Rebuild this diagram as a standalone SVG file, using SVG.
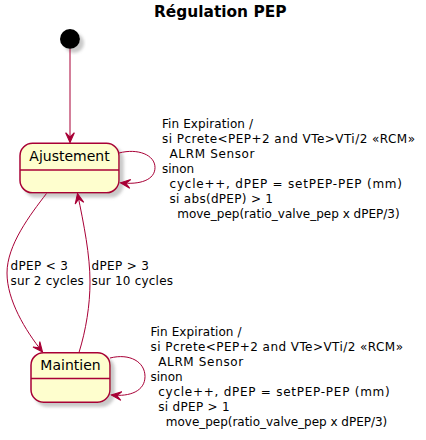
<svg xmlns="http://www.w3.org/2000/svg" width="426" height="440" viewBox="0 0 426 440">
<style>
.state{fill:#FEFECE;stroke:#A80036;stroke-width:1.5}
.sep{stroke:#A80036;stroke-width:1.5}
.name{font-family:"DejaVu Sans",Verdana,sans-serif;font-size:14px;fill:#000;text-anchor:middle}
.lbl{font-family:"DejaVu Sans",Verdana,sans-serif;font-size:12px;fill:#000}
.edge{fill:none;stroke:#A80036;stroke-width:1}
.title{font-family:"DejaVu Sans",Verdana,sans-serif;font-size:16px;font-weight:bold;fill:#000}
</style>
<defs>
<filter id="sh" x="-20%" y="-20%" width="150%" height="150%">
<feGaussianBlur in="SourceAlpha" stdDeviation="1.7" result="b"/>
<feOffset in="b" dx="4" dy="4" result="o"/>
<feColorMatrix in="o" type="matrix" values="0 0 0 0 0.3  0 0 0 0 0.3  0 0 0 0 0.3  0 0 0 0.5 0" result="s"/>
<feMerge><feMergeNode in="s"/><feMergeNode in="SourceGraphic"/></feMerge>
</filter>
<marker id="ah" markerUnits="userSpaceOnUse" markerWidth="12" markerHeight="12" viewBox="-10 -5 11 10" refX="0" refY="0" orient="auto" overflow="visible">
<path d="M0,0 L-9,-4 L-5,0 L-9,4 Z" fill="#A80036" stroke="#A80036" stroke-width="1"/>
</marker>
</defs>
<rect width="426" height="440" fill="#FFFFFF"/>
<text class="title" x="154" y="16.8" textLength="132.5" lengthAdjust="spacingAndGlyphs">Régulation PEP</text>

<g id="initial">
<circle cx="70" cy="39" r="10" fill="#000" filter="url(#sh)"/>
</g>

<g id="Ajustement">
<rect class="state" x="20" y="143.3" width="99" height="49.5" rx="12.5" ry="12.5" filter="url(#sh)"/>
<line class="sep" x1="20" y1="170" x2="119" y2="170"/>
<text class="name" x="69.5" y="161">Ajustement</text>
</g>

<g id="Maintien">
<rect class="state" x="31" y="352.7" width="79" height="49.5" rx="12.5" ry="12.5" filter="url(#sh)"/>
<line class="sep" x1="31" y1="378.5" x2="110" y2="378.5"/>
<text class="name" x="70.5" y="369.5">Maintien</text>
</g>

<g id="connectors">
<path class="edge" d="M70,49 L70,142.5" marker-end="url(#ah)"/>
<path class="edge" d="M119,153 C138,148 155,155 155,167.5 C155,180 140,185 120.5,182.8" marker-end="url(#ah)"/>
<path class="edge" d="M46.5,193.5 C30,215 7,245 7,273 C7,300 25,330 42.5,352" marker-end="url(#ah)"/>
<path class="edge" d="M79,352.5 C86,330 90,305 90,282 C90,255 84,225 77.5,193.5" marker-end="url(#ah)"/>
<path class="edge" d="M110,358 C130,353 145,362 145,376.5 C145,391 130,397 111.5,395" marker-end="url(#ah)"/>
</g>

<g id="labels">
<text class="lbl" x="10.5" y="270" textLength="57.5" lengthAdjust="spacing">dPEP &lt; 3</text>
<text class="lbl" x="10.5" y="284.5" textLength="73.3" lengthAdjust="spacing">sur 2 cycles</text>
<text class="lbl" x="91.5" y="270" textLength="57.5" lengthAdjust="spacing">dPEP &gt; 3</text>
<text class="lbl" x="91.5" y="284.5" textLength="81.5" lengthAdjust="spacing">sur 10 cycles</text>

<text class="lbl" x="162" y="128.3" textLength="91" lengthAdjust="spacing">Fin Expiration /</text>
<text class="lbl" x="162" y="143.3" textLength="253" lengthAdjust="spacing">si Pcrete&lt;PEP+2 and VTe&gt;VTi/2 «RCM»</text>
<text class="lbl" x="169.5" y="158.3" textLength="85" lengthAdjust="spacing">ALRM Sensor</text>
<text class="lbl" x="162" y="173.3">sinon</text>
<text class="lbl" x="169.5" y="188.3" textLength="232.5" lengthAdjust="spacing">cycle++, dPEP = setPEP-PEP (mm)</text>
<text class="lbl" x="169.5" y="203.3" textLength="103.5" lengthAdjust="spacing">si abs(dPEP) &gt; 1</text>
<text class="lbl" x="177.2" y="218.3" textLength="222.5" lengthAdjust="spacing">move_pep(ratio_valve_pep x dPEP/3)</text>

<text class="lbl" x="150.5" y="336.4" textLength="91" lengthAdjust="spacing">Fin Expiration /</text>
<text class="lbl" x="150.5" y="351.4" textLength="252.5" lengthAdjust="spacing">si Pcrete&lt;PEP+2 and VTe&gt;VTi/2 «RCM»</text>
<text class="lbl" x="158.2" y="366.4" textLength="85" lengthAdjust="spacing">ALRM Sensor</text>
<text class="lbl" x="150.5" y="381.4">sinon</text>
<text class="lbl" x="158.2" y="396.4" textLength="231.5" lengthAdjust="spacing">cycle++, dPEP = setPEP-PEP (mm)</text>
<text class="lbl" x="158.2" y="411.4" textLength="71.5" lengthAdjust="spacing">si dPEP &gt; 1</text>
<text class="lbl" x="165.8" y="426.4" textLength="221.5" lengthAdjust="spacing">move_pep(ratio_valve_pep x dPEP/3)</text>
</g>
</svg>
